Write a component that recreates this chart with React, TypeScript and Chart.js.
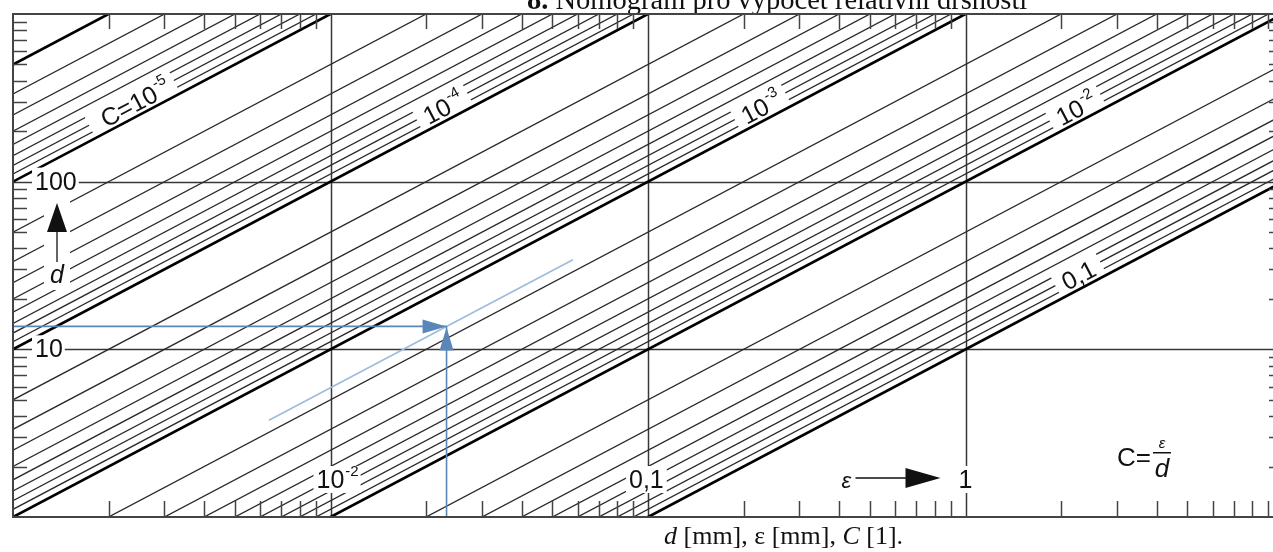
import React, { useEffect, useRef } from "react";
import { Chart, registerables } from "chart.js";

Chart.register(...registerables);

// ---- axis ranges ----
const X_MIN = 0.001;
const X_MAX = 10;
const Y_MIN = 1;
const Y_MAX = 1000;

// ---- relative roughness lines C = eps / d ----
const C_MAJOR = [2e-6, 1e-5, 1e-4, 1e-3, 1e-2, 1e-1];
const C_MINOR = [
  3e-6, 4e-6, 5e-6, 6e-6, 7e-6, 8e-6, 9e-6,
  2e-5, 3e-5, 4e-5, 5e-5, 6e-5, 7e-5, 8e-5, 9e-5,
  2e-4, 3e-4, 4e-4, 5e-4, 6e-4, 7e-4, 8e-4, 9e-4,
  2e-3, 3e-3, 4e-3, 5e-3, 6e-3, 7e-3, 8e-3, 9e-3,
  2e-2, 3e-2, 4e-2, 5e-2, 6e-2, 7e-2, 8e-2, 9e-2,
];

// ---- grid & ticks ----
const X_DECADES = [0.01, 0.1, 1];
const Y_DECADES = [10, 100];
const X_MINOR_TICKS = [
  0.002, 0.003, 0.004, 0.005, 0.006, 0.007, 0.008, 0.009,
  0.02, 0.03, 0.04, 0.05, 0.06, 0.07, 0.08, 0.09,
  0.2, 0.3, 0.4, 0.5, 0.6, 0.7, 0.8, 0.9,
  2, 3, 4, 5, 6, 7, 8, 9,
];
const Y_MINOR_TICKS = [
  2, 3, 4, 5, 6, 7, 8, 9,
  20, 30, 40, 50, 60, 70, 80, 90,
  200, 300, 400, 500, 600, 700, 800, 900,
];

// ---- labels ----
const LINE_LABELS = [
  { c: 1e-5, main: "C=10", sup: "-5", eps: 0.0032 },
  { c: 1e-4, main: "10", sup: "-4", eps: 0.0269 },
  { c: 1e-3, main: "10", sup: "-3", eps: 0.27 },
  { c: 1e-2, main: "10", sup: "-2", eps: 2.65 },
  { c: 1e-1, main: "0,1", sup: "", eps: 2.65 },
];
const Y_AXIS_LABELS = [
  { value: 100, text: "100" },
  { value: 10, text: "10" },
];
const X_AXIS_LABELS = [
  { value: 0.01, main: "10", sup: "-2" },
  { value: 0.1, main: "0,1", sup: "" },
  { value: 1, main: "1", sup: "" },
];

// ---- worked example ----
const EX_EPS = 0.0232;
const EX_D = 13.7;
const EX_SPAN = [0.0064, 0.058];

const TITLE_BOLD = "8.";
const TITLE_TEXT = " Nomogram pro výpočet relativní drsnosti";

const SANS = "'Liberation Sans', Arial, sans-serif";
const SERIF = "'Liberation Serif', 'Times New Roman', serif";

const W = 1290;
const H = 552;

function lineData(c: number) {
  return [
    { x: X_MIN, y: X_MIN / c },
    { x: X_MAX, y: X_MAX / c },
  ];
}

const nomoPlugin = {
  id: "nomo",
  beforeDraw(chart: any) {
    const ctx = chart.ctx;
    ctx.save();
    ctx.fillStyle = "#fff";
    ctx.fillRect(0, 0, chart.width, chart.height);
    // title (cut at the top of the picture)
    ctx.fillStyle = "#111";
    ctx.textBaseline = "alphabetic";
    ctx.textAlign = "left";
    ctx.font = `bold 28.5px ${SERIF}`;
    const tx = 527;
    ctx.fillText(TITLE_BOLD, tx, 9);
    const wb = ctx.measureText(TITLE_BOLD).width;
    ctx.font = `28.5px ${SERIF}`;
    ctx.fillText(TITLE_TEXT, tx + wb, 9);
    ctx.restore();
  },
  beforeDatasetsDraw(chart: any) {
    const ctx = chart.ctx;
    const xs = chart.scales.x;
    const ys = chart.scales.y;
    const a = chart.chartArea;
    ctx.save();
    ctx.fillStyle = "#fff";
    ctx.fillRect(a.left, a.top, a.right - a.left, a.bottom - a.top);
    ctx.strokeStyle = "#383838";
    ctx.lineWidth = 1.5;
    X_DECADES.forEach((v) => {
      const px = Math.round(xs.getPixelForValue(v)) + 0.5;
      ctx.beginPath();
      ctx.moveTo(px, a.top);
      ctx.lineTo(px, a.bottom);
      ctx.stroke();
    });
    Y_DECADES.forEach((v) => {
      const py = Math.round(ys.getPixelForValue(v)) + 0.5;
      ctx.beginPath();
      ctx.moveTo(a.left, py);
      ctx.lineTo(a.right, py);
      ctx.stroke();
    });
    ctx.restore();
  },
  afterDatasetsDraw(chart: any) {
    const ctx = chart.ctx;
    const xs = chart.scales.x;
    const ys = chart.scales.y;
    const a = chart.chartArea;
    ctx.save();

    // border
    ctx.strokeStyle = "#444";
    ctx.lineWidth = 2;
    ctx.strokeRect(a.left, a.top, a.right - a.left, a.bottom - a.top);

    // inward ticks
    ctx.lineWidth = 1.5;
    ctx.strokeStyle = "#444";
    X_MINOR_TICKS.forEach((v) => {
      const px = Math.round(xs.getPixelForValue(v)) + 0.5;
      ctx.beginPath();
      ctx.moveTo(px, a.bottom);
      ctx.lineTo(px, a.bottom - 16);
      ctx.moveTo(px, a.top);
      ctx.lineTo(px, a.top + 15);
      ctx.stroke();
    });
    Y_MINOR_TICKS.forEach((v) => {
      const py = Math.round(ys.getPixelForValue(v)) + 0.5;
      ctx.beginPath();
      ctx.moveTo(a.left, py);
      ctx.lineTo(a.left + 14, py);
      ctx.moveTo(a.right, py);
      ctx.lineTo(a.right - 14, py);
      ctx.stroke();
    });

    ctx.fillStyle = "#111";
    ctx.textBaseline = "alphabetic";
    ctx.textAlign = "left";

    // labels along the C lines
    LINE_LABELS.forEach((l, i) => {
      const x1 = xs.getPixelForValue(l.eps);
      const y1 = ys.getPixelForValue(l.eps / l.c);
      const x2 = xs.getPixelForValue(l.eps * 10);
      const y2 = ys.getPixelForValue((l.eps * 10) / l.c);
      const ang = Math.atan2(y2 - y1, x2 - x1);
      ctx.save();
      ctx.translate(x1, y1);
      ctx.rotate(ang);
      ctx.font = `25px ${SANS}`;
      const w1 = ctx.measureText(l.main).width;
      ctx.font = `15px ${SANS}`;
      const w2 = l.sup ? ctx.measureText(l.sup).width : 0;
      const tot = w1 + w2;
      const padL = i === 0 ? 14 : 8;
      ctx.fillStyle = "#fff";
      ctx.fillRect(-tot - padL, -29, tot + padL + 8, 26.5);
      ctx.fillStyle = "#111";
      ctx.font = `25px ${SANS}`;
      ctx.fillText(l.main, -tot, -4);
      if (l.sup) {
        ctx.font = `15px ${SANS}`;
        ctx.fillText(l.sup, -tot + w1 + 1, -16);
      }
      ctx.restore();
    });

    // y-axis labels
    Y_AXIS_LABELS.forEach((l) => {
      const py = ys.getPixelForValue(l.value);
      ctx.font = `25px ${SANS}`;
      const w = ctx.measureText(l.text).width;
      const x0 = a.left + 22;
      ctx.fillStyle = "#fff";
      ctx.fillRect(x0 - 3, py - 14, w + 5, 28);
      ctx.fillStyle = "#111";
      ctx.textBaseline = "middle";
      ctx.fillText(l.text, x0, py + 1);
      ctx.textBaseline = "alphabetic";
    });

    // x-axis labels
    const xlBase = a.bottom - 29;
    X_AXIS_LABELS.forEach((l) => {
      const px = xs.getPixelForValue(l.value);
      ctx.font = `25px ${SANS}`;
      const w1 = ctx.measureText(l.main).width;
      ctx.font = `15px ${SANS}`;
      const w2 = l.sup ? ctx.measureText(l.sup).width : 0;
      const x0 = l.sup ? px - 14 : l.main.length > 1 ? px - 19 : px - 7;
      ctx.fillStyle = "#fff";
      ctx.fillRect(x0 - 3, xlBase - 22, w1 + w2 + 6, 27);
      ctx.fillStyle = "#111";
      ctx.font = `25px ${SANS}`;
      ctx.fillText(l.main, x0, xlBase);
      if (l.sup) {
        ctx.font = `15px ${SANS}`;
        ctx.fillText(l.sup, x0 + w1 + 1, xlBase - 12);
      }
    });

    // d arrow (left)
    {
      const cx = a.left + 44;
      ctx.fillStyle = "#fff";
      ctx.fillRect(cx - 13, 198, 26, 92);
      ctx.fillStyle = "#111";
      ctx.strokeStyle = "#111";
      ctx.lineWidth = 1.3;
      ctx.beginPath();
      ctx.moveTo(cx, 262);
      ctx.lineTo(cx, 228);
      ctx.stroke();
      ctx.beginPath();
      ctx.moveTo(cx, 203);
      ctx.lineTo(cx - 10, 232);
      ctx.lineTo(cx + 10, 232);
      ctx.closePath();
      ctx.fill();
      ctx.font = `italic 25px ${SANS}`;
      ctx.textAlign = "center";
      ctx.fillText("d", cx, 283);
      ctx.textAlign = "left";
    }

    // eps arrow (bottom)
    {
      const px1 = xs.getPixelForValue(1);
      const yb = xlBase - 10;
      ctx.fillStyle = "#111";
      ctx.strokeStyle = "#111";
      ctx.font = `italic 22px ${SANS}`;
      ctx.fillText("ε", px1 - 124, xlBase);
      ctx.lineWidth = 1.3;
      ctx.beginPath();
      ctx.moveTo(px1 - 110, yb);
      ctx.lineTo(px1 - 58, yb);
      ctx.stroke();
      ctx.beginPath();
      ctx.moveTo(px1 - 25, yb);
      ctx.lineTo(px1 - 60, yb - 10);
      ctx.lineTo(px1 - 60, yb + 10);
      ctx.closePath();
      ctx.fill();
    }

    // formula C = eps/d
    {
      const fx = a.right - 166;
      ctx.fillStyle = "#111";
      ctx.font = `26px ${SANS}`;
      ctx.fillText("C=", fx, 466);
      const wc = ctx.measureText("C=").width;
      ctx.font = `italic 15px ${SANS}`;
      ctx.textAlign = "center";
      ctx.fillText("ε", fx + wc + 11, 448);
      ctx.fillRect(fx + wc + 2, 452, 18, 1.5);
      ctx.font = `italic 26px ${SANS}`;
      ctx.fillText("d", fx + wc + 11, 477);
      ctx.textAlign = "left";
    }

    // worked example arrowheads
    {
      const ex = xs.getPixelForValue(EX_EPS);
      const ey = ys.getPixelForValue(EX_D);
      ctx.fillStyle = "#5b87b8";
      ctx.beginPath();
      ctx.moveTo(ex, ey);
      ctx.lineTo(ex - 24, ey - 7);
      ctx.lineTo(ex - 24, ey + 7);
      ctx.closePath();
      ctx.fill();
      ctx.beginPath();
      ctx.moveTo(ex, ey + 1);
      ctx.lineTo(ex - 7, ey + 24);
      ctx.lineTo(ex + 7, ey + 24);
      ctx.closePath();
      ctx.fill();
    }

    // caption
    {
      let cx = 664;
      const by = 544;
      const parts: [string, string][] = [
        ["d", "italic"],
        [" [mm], ", ""],
        ["ε", ""],
        [" [mm], ", ""],
        ["C", "italic"],
        [" [1].", ""],
      ];
      ctx.fillStyle = "#111";
      parts.forEach(([t, st]) => {
        ctx.font = `${st} 26px ${SERIF}`.trim();
        ctx.fillText(t, cx, by);
        cx += ctx.measureText(t).width;
      });
    }

    ctx.restore();
  },
};

export default function App() {
  const ref = useRef<HTMLCanvasElement>(null);

  useEffect(() => {
    if (!ref.current) return;
    const exC = EX_EPS / EX_D;
    const datasets: any[] = [];
    C_MINOR.forEach((c) =>
      datasets.push({
        data: lineData(c),
        borderColor: "#2a2a2a",
        borderWidth: 1.3,
        pointRadius: 0,
        clip: 0,
        order: 2,
      })
    );
    C_MAJOR.forEach((c) =>
      datasets.push({
        data: lineData(c),
        borderColor: "#000",
        borderWidth: 2.7,
        pointRadius: 0,
        clip: 0,
        order: 1,
      })
    );
    datasets.push({
      data: EX_SPAN.map((e) => ({ x: e, y: e / exC })),
      borderColor: "#9dbbdc",
      borderWidth: 1.6,
      pointRadius: 0,
      clip: 0,
      order: -1,
    });
    datasets.push({
      data: [
        { x: X_MIN, y: EX_D },
        { x: EX_EPS, y: EX_D },
      ],
      borderColor: "#5b87b8",
      borderWidth: 1.6,
      pointRadius: 0,
      clip: 0,
      order: -2,
    });
    datasets.push({
      data: [
        { x: EX_EPS, y: Y_MIN },
        { x: EX_EPS, y: EX_D },
      ],
      borderColor: "#5b87b8",
      borderWidth: 1.6,
      pointRadius: 0,
      clip: 0,
      order: -2,
    });

    const chart = new Chart(ref.current, {
      type: "line",
      data: { datasets },
      options: {
        animation: false,
        responsive: false,
        devicePixelRatio: 1,
        parsing: false as any,
        layout: { padding: { left: 13, top: 14, right: W - 1283, bottom: H - 517 } },
        plugins: {
          legend: { display: false },
          tooltip: { enabled: false },
        },
        elements: { line: { tension: 0 } },
        scales: {
          x: { type: "logarithmic", min: X_MIN, max: X_MAX, display: false },
          y: { type: "logarithmic", min: Y_MIN, max: Y_MAX, display: false },
        },
      },
      plugins: [nomoPlugin],
    });
    return () => chart.destroy();
  }, []);

  return (
    <div
      style={{
        position: "absolute",
        left: 0,
        top: 0,
        width: 1273,
        height: 552,
        overflow: "hidden",
        background: "#fff",
      }}
    >
      <canvas ref={ref} width={W} height={H} style={{ display: "block" }} />
    </div>
  );
}
